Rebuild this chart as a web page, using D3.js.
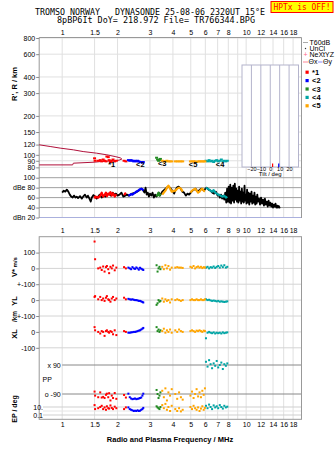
<!DOCTYPE html>
<html><head><meta charset="utf-8">
<script src="https://cdn.jsdelivr.net/npm/d3@7"></script>
<style>
body{margin:0;background:#fff;}
svg{display:block;font-family:"Liberation Sans",Arial,sans-serif;}
</style></head><body>
<svg id="c" width="335" height="451"></svg>
<script>
// ---------- data ----------
const titleLine1 = "TROMSO NORWAY   DYNASONDE 25-08-06 2320UT 15°E";
const titleLine2 = "8pBP6It DoY= 218.972 File= TR766344.BPG";
const statusText = "HPTx is OFF!";
const xTitle = "Radio and Plasma Frequency / MHz";

const freqTicksTop = [1,1.5,2,3,4,5,6,7,8,10,12,14,16,18];
const freqLabelsTop = ["1","1.5","2","3","4","5","6","7","8","10","12","14","16","18"];
const freqTicksMid = [1,1.5,2,3,4,5,6,7,8,9,10,12,14,16,18];
const freqLabelsMid = ["1","1.5","2","3","4","5","6","7","8","9","10","12","14","16","18"];
const freqGrid = [1,1.5,2,3,4,5,6,7,8,9,10,12,14,16,18];

const heightTicks = [800,600,400,300,200,150,120,100,90,80];
const ampTicks = [100,80,60,40,20];
const ampLabels = ["100","dBe 80","60","40","dBn 20"];
const vsTicks = [100,0,-100], vsLabels = ["100","0","+-100"];
const ylTicks = [0,-100], ylLabels = ["0","+-100"];
const xlTicks = [0,-100], xlLabels = ["0","-100"];
const ppTicks = [90,-90], ppLabels = ["x 90","o -90"];
const epTicks = [10,1,0.1], epLabels = ["10.","","0.1"];
const tiltTicks = [-20,-10,0,10,20];
const tiltValues = [2.5, 9];          // theta x, theta y

// model profile (frequency MHz, height km)
const profF = [0.75,0.86,0.975,1.15,1.30,1.54,1.75,1.94,2.07,2.11,2.04,1.89,1.61,1.51,1.15,1.14,0.75];
const profH = [119.5,116,112.7,109.3,106,103,100,97,94.8,92.8,91,89.8,88.7,87.8,86.2,83.6,83.6];

// amplitude (black line)
const ampF = [1.00,1.02,1.04,1.06,1.08,1.10,1.12,1.14,1.16,1.18,
 1.20,1.22,1.25,1.28,1.30,1.33,1.36,1.38,1.41,1.43,
 1.45,1.48,1.51,1.54,1.57,1.60,1.64,1.68,1.72,1.76,
 1.80,1.84,1.88,1.92,1.96,2.00,2.05,2.10,2.15,2.20,
 2.25,2.30,2.40,2.50,2.60,2.70,2.76,2.80,2.84,2.88,
 2.92,2.96,3.00,3.05,3.10,3.15,3.20,3.25,3.30,3.35,
 3.40,3.45,3.50,3.60,3.70,3.80,3.90,4.00,4.06,4.12,
 4.20,4.30,4.40,4.50,4.60,4.70,4.80,4.90,5.00,5.10,
 5.20,5.30,5.40,5.50,5.60,5.70,5.80,5.90,6.00,6.10,
 6.25,6.40,6.55,6.70,6.85,7.00,7.10,7.20,7.30,7.40,
 7.50,7.60,7.70,7.80,7.88,7.96,8.04,8.12,8.20,8.28,
 8.36,8.44,8.52,8.60,8.68,8.76,8.84,8.92,9.00,9.08,
 9.16,9.24,9.32,9.40,9.48,9.56,9.64,9.72,9.80,9.88,
 9.96,10.04,10.12,10.20,10.30,10.40,10.50,10.60,10.70,10.80,
 10.90,11.00,11.10,11.20,11.30,11.40,11.50,11.60,11.75,11.90,
 12.05,12.20,12.35,12.50,12.65,12.80,12.95,13.10,13.25,13.40,
 13.55,13.70,13.85,14.00,14.15,14.30,14.45,14.60,14.75,14.90,
 15.05,15.20,15.30];
const ampDB = [70,74,72,76,72,66,62,60,64,60,
 62,59,63,58,62,66,60,64,57,52,
 60,65,62,58,62,66,60,64,62,66,
 68,64,70,66,68,64,66,70,62,64,
 66,64,68,70,74,78,74,70,80,66,
 70,62,68,64,70,60,66,62,66,70,
 64,68,72,76,80,82,78,72,68,74,
 80,82,78,72,70,64,68,66,70,74,
 76,78,74,72,76,78,76,74,78,80,
 76,74,70,68,72,64,66,60,66,58,
 64,56,70,50,78,52,82,50,86,48,
 80,54,84,50,88,56,78,52,74,50,
 82,54,72,48,78,52,70,50,84,54,
 66,48,76,50,70,46,68,52,72,48,
 64,50,70,46,62,48,66,52,58,46,
 60,48,56,44,58,46,52,42,54,44,
 50,42,48,40,46,42,48,40,44,40,
 43,40,41];

// traces
const t1F  = [1.50,1.51,1.57,1.61,1.64,1.67,1.70,1.73,1.75,1.78,1.80,1.83,1.86,1.89,1.93,1.97,2.17,2.22];
const t1H  = [94,90,90,91,89,92,90,89,97,96,91,88,90,92,89,90,90,89];
const t1A  = [58,62,60,64,70,62,65,70,63,68,66,71,64,69,62,67,65,70];
const t1V  = [170,58,0,5,-10,12,-20,8,15,-5,-30,10,0,18,-12,5,8,0];
const t1YL = [20,25,5,20,0,10,-5,15,25,5,0,-10,10,20,0,10,15,5];
const t1XL = [30,10,0,-10,5,0,-25,5,10,0,-5,5,0,-15,10,-20,5,0];
const t1PP = [-75,-100,-110,-80,-112,-108,-115,-95,-88,-110,-85,-130,-100,-115,-84,-120,-96,-112];
const t1EP = [30,3,5,10,20,3,8,2,15,5,4,25,6,3,12,5,3,8];

const t2F  = [2.29,2.33,2.37,2.41,2.45,2.49,2.53,2.57,2.61,2.65,2.69,2.73,2.76];
const t2H  = [91,90,91,90,89,90,89,90,89,88,88,87,88];
const t2A  = [64,65,67,66,68,70,72,73,75,77,78,77,74];
const t2V  = [5,0,-5,8,0,-3,6,0,-8,4,-2,-6,-10];
const t2YL = [8,5,3,5,2,0,0,-2,-5,-5,-8,-12,-15];
const t2XL = [-5,-5,-3,-2,0,0,2,5,8,10,15,20,25];
const t2PP = [-88,-110,-118,-122,-120,-118,-122,-120,-118,-115,-112,-100,-88];
const t2EP = [8,3,2,1.5,1,1.2,1,1.5,1,1.2,2,3,6];

const t3F  = [3.26,3.30,3.34,3.38,3.42];
const t3H  = [95,92,90,91,93];
const t3A  = [62,66,70,64,68];
const t3V  = [20,-20,0,10,-5];
const t3YL = [-30,-20,0,-10,-5];
const t3XL = [30,5,15,0,10];
const t3PP = [-65,-90,-115,-100,-80];
const t3EP = [15,8,5,3,10];

const t4F  = [6.05,6.17,6.29,6.41,6.53,6.66,6.79,6.92,7.05,7.19,7.33,7.47,7.61,7.76,7.90];
const t4H  = [90,89,91,89,90,88,90,91,89,90,92,89,90,89,90];
const t4A  = [80,78,76,74,72,75,70,68,66,65,63,62,64,60,62];
const t4V  = [5,10,0,8,5,12,3,10,15,5,18,8,20,5,10];
const t4YL = [5,0,2,-2,-5,-3,-5,-8,-5,-10,-8,-10,-12,-10,-8];
const t4XL = [-40,-5,0,-5,-8,-3,-10,-5,-8,-5,-10,-3,-8,-5,-3];
const t4PP = [110,80,120,95,70,100,85,115,75,90,105,65,95,85,100];
const t4EP = [20,5,40,10,3,25,8,15,5,30,10,4,20,8,12];

const t5F  = [3.50,3.57,3.64,3.71,3.78,3.86,3.94, 4.12,4.22,4.32,4.42,4.52,
              4.98,5.08,5.18,5.28,5.38,5.48,5.58,5.68,5.78,5.88,5.97];
const t5H  = [90,89,89,90,89,89,89, 89,89,89,89,89, 89,89,89,89,88,89,89,89,89,89,89];
const t5A  = [66,70,74,80,84,78,72, 74,78,80,78,72, 70,74,76,78,74,70,72,76,78,74,72];
const t5V  = [10,-5,20,0,15,-8,5, 5,8,5,5,3, 10,5,15,0,8,12,5,10,2,8,5];
const t5YL = [10,-10,5,-5,0,-15,5, 0,5,0,-5,0, 0,5,0,0,5,0,0,5,0,0,5];
const t5XL = [5,20,-5,10,0,15,-5, 10,0,15,5,0, 5,10,5,0,8,5,10,5,0,8,5];
const t5PP = [-70,-110,-55,-130,-80,-100,-60, -90,-120,-80,-110,-125,
              -100,-75,-115,-90,-60,-105,-80,-110,-70,-95,-55];
const t5EP = [30,5,60,2,10,1,20, 3,1,5,0.8,2, 10,3,20,5,2,8,1,4,15,2,6];

const traceNames  = ["*1","<2","<3","<4","<5"];
const traceColors = ["#ff0000","#0000ff","#228b22","#00a5a5","#ffa500"];
const markF = [1.86,2.66,3.50,7.22,5.15];
const markH = [84.7,84.7,85.5,85,85];

const legendTop = ["T60dB","UnCl","NeXtYZ"];

// ---------- scales ----------
const x   = d3.scaleLog().domain([0.75,20]).range([39.2,301.5]);
const yH  = d3.scaleLog().domain([75,800]).range([171,38]);
const yA  = d3.scaleLinear().domain([20,100]).range([217.5,177.7]);
const yV  = d3.scaleLinear().domain([-100,100]).range([284.2,252.6]);
const yYL = d3.scaleLinear().domain([-100,100]).range([316,284.2]);
const yXL = d3.scaleLinear().domain([-100,100]).range([347.8,316]);
const yPP = d3.scaleLinear().domain([-90,90]).range([394,365]);
const yEP = d3.scaleLog().domain([0.1,10]).range([415,407]);
const xT  = d3.scaleLinear().domain([-30,30]).range([242,298.5]);

const L = 39.2, R = 301.5, T1 = 37.5, B1 = 218, T2 = 236.7, B2 = 419.3;
const FONT = "Liberation Sans, Arial, sans-serif";
const svg = d3.select("#c");

const traces = [
 {f:t1F,h:t1H,a:t1A,v:t1V,yl:t1YL,xl:t1XL,pp:t1PP,ep:t1EP},
 {f:t2F,h:t2H,a:t2A,v:t2V,yl:t2YL,xl:t2XL,pp:t2PP,ep:t2EP},
 {f:t3F,h:t3H,a:t3A,v:t3V,yl:t3YL,xl:t3XL,pp:t3PP,ep:t3EP},
 {f:t4F,h:t4H,a:t4A,v:t4V,yl:t4YL,xl:t4XL,pp:t4PP,ep:t4EP},
 {f:t5F,h:t5H,a:t5A,v:t5V,yl:t5YL,xl:t5XL,pp:t5PP,ep:t5EP}
].map((t,i)=>Object.assign(t,{name:traceNames[i],color:traceColors[i]}));

// ---------- titles ----------
svg.append("text").attr("x",150).attr("y",15).attr("text-anchor","middle")
  .attr("font-family","DejaVu Sans Mono, monospace").attr("font-size",8)
  .attr("textLength",230).attr("lengthAdjust","spacingAndGlyphs")
  .style("white-space","pre").text(titleLine1);
svg.append("text").attr("x",156).attr("y",23).attr("text-anchor","middle")
  .attr("font-family","DejaVu Sans Mono, monospace").attr("font-size",8)
  .attr("textLength",198).attr("lengthAdjust","spacingAndGlyphs")
  .style("white-space","pre").text(titleLine2);
svg.append("rect").attr("x",271).attr("y",1.5).attr("width",62).attr("height",11)
  .attr("fill","#ffff00").attr("stroke","#ff0000").attr("stroke-width",1);
svg.append("text").attr("x",302).attr("y",10.2).attr("text-anchor","middle")
  .attr("font-family","DejaVu Sans Mono, monospace").attr("font-size",8).attr("fill","#ff0000")
  .attr("textLength",57).attr("lengthAdjust","spacingAndGlyphs")
  .style("white-space","pre").text(statusText);

// ---------- grids ----------
const grid = svg.append("g");
grid.selectAll(".vg1").data(freqGrid).join("line")
  .attr("x1",d=>x(d)).attr("x2",d=>x(d)).attr("y1",T1).attr("y2",B1)
  .attr("stroke","#e0e0e0");
grid.selectAll(".hg").data(heightTicks).join("line")
  .attr("x1",L).attr("x2",R).attr("y1",d=>yH(d)).attr("y2",d=>yH(d)).attr("stroke","#e0e0e0");
grid.selectAll(".ag").data(ampTicks).join("line")
  .attr("x1",L).attr("x2",R).attr("y1",d=>yA(d)).attr("y2",d=>yA(d))
  .attr("stroke",d=>d===20?"#aab0dd":"#a0a0a0");
grid.selectAll(".vg2").data(freqGrid).join("line")
  .attr("x1",d=>x(d)).attr("x2",d=>x(d)).attr("y1",T2).attr("y2",B2)
  .attr("stroke","#e0e0e0");
const lowerLines = [yV(100),yV(0),yV(-100),yYL(0),yYL(-100),yXL(0),yXL(-100)];
grid.selectAll(".lg").data(lowerLines).join("line")
  .attr("x1",L).attr("x2",R).attr("y1",d=>d).attr("y2",d=>d).attr("stroke","#d4d4d4");
grid.selectAll(".pg").data(ppTicks).join("line")
  .attr("x1",x(1)).attr("x2",R).attr("y1",d=>yPP(d)).attr("y2",d=>yPP(d)).attr("stroke","#888");
grid.selectAll(".eg").data(epTicks).join("line")
  .attr("x1",43).attr("x2",R).attr("y1",d=>yEP(d)).attr("y2",d=>yEP(d))
  .attr("stroke",d=>d===1?"#e6e6e6":"#cfcfcf");

// frames
svg.append("path").attr("d",`M${L},${B1}V${T1}H${R}V${B1}`).attr("fill","none").attr("stroke","#999");
svg.append("rect").attr("x",L).attr("y",T2).attr("width",R-L).attr("height",B2-T2)
  .attr("fill","none").attr("stroke","#999");

// ---------- tilt inset ----------
const inset = svg.append("g");
inset.append("rect").attr("x",xT(-30)).attr("y",65).attr("width",xT(30)-xT(-30)).attr("height",102)
  .attr("fill","#fff").attr("stroke","#b4b4cc");
inset.selectAll("line.tt").data(tiltTicks).join("line")
  .attr("x1",d=>xT(d)).attr("x2",d=>xT(d)).attr("y1",65).attr("y2",167).attr("stroke","#b4b4cc");
inset.append("g").attr("transform","translate(0,167)")
  .call(d3.axisBottom(xT).tickValues(tiltTicks).tickSize(0).tickPadding(0.5))
  .call(g=>{g.select(".domain").remove();g.attr("font-size",5.5).attr("font-family",FONT);
            g.selectAll("text").attr("fill","#000");});
inset.append("text").attr("x",xT(0)).attr("y",176).attr("text-anchor","middle")
  .attr("font-size",6).attr("font-family",FONT).text("Tilt / deg");
inset.selectAll("line.tv").data(tiltValues).join("line")
  .attr("x1",d=>xT(d)).attr("x2",d=>xT(d)).attr("y1",163.5).attr("y2",167)
  .attr("stroke",(d,i)=>i===0?"#ff0000":"#0000ff").attr("stroke-width",1.2);

// ---------- axes ----------
function styleAxis(g){
  g.attr("font-size",7).attr("font-family",FONT);
  g.select(".domain").remove();
  g.selectAll(".tick line").attr("stroke","#888");
  g.selectAll(".tick text").attr("fill","#000").style("white-space","pre");
}
svg.append("g").attr("transform",`translate(0,${T1})`)
  .call(d3.axisTop(x).tickValues(freqTicksTop).tickFormat((d,i)=>freqLabelsTop[i]).tickSize(0).tickPadding(2.5))
  .call(styleAxis);
svg.append("g").attr("transform",`translate(0,${T2})`)
  .call(d3.axisTop(x).tickValues(freqTicksMid).tickFormat((d,i)=>freqLabelsMid[i]).tickSize(0).tickPadding(4))
  .call(styleAxis);
svg.append("g").attr("transform",`translate(0,${B2})`)
  .call(d3.axisBottom(x).tickValues(freqTicksTop).tickFormat((d,i)=>freqLabelsTop[i]).tickSize(0).tickPadding(3))
  .call(styleAxis);

svg.append("g").attr("transform",`translate(${L},0)`)
  .call(d3.axisLeft(yH).tickValues(heightTicks).tickFormat(d3.format("d")).tickSize(3).tickPadding(1))
  .call(styleAxis);
svg.append("g").attr("transform",`translate(${L},0)`)
  .call(d3.axisLeft(yA).tickValues(ampTicks).tickFormat((d,i)=>ampLabels[i]).tickSize(3).tickPadding(1))
  .call(styleAxis);
svg.append("g").attr("transform",`translate(${L},0)`)
  .call(d3.axisLeft(yV).tickValues(vsTicks).tickFormat((d,i)=>vsLabels[i]).tickSize(3).tickPadding(1))
  .call(styleAxis);
svg.append("g").attr("transform",`translate(${L},0)`)
  .call(d3.axisLeft(yYL).tickValues(ylTicks).tickFormat((d,i)=>ylLabels[i]).tickSize(3).tickPadding(1))
  .call(styleAxis);
svg.append("g").attr("transform",`translate(${L},0)`)
  .call(d3.axisLeft(yXL).tickValues(xlTicks).tickFormat((d,i)=>xlLabels[i]).tickSize(3).tickPadding(1))
  .call(styleAxis);
svg.append("g").attr("transform",`translate(${x(1)-0.5},0)`)
  .call(d3.axisLeft(yPP).tickValues(ppTicks).tickFormat((d,i)=>ppLabels[i]).tickSize(0).tickPadding(1))
  .call(styleAxis);
svg.append("g").attr("transform",`translate(43.5,0)`)
  .call(d3.axisLeft(yEP).tickValues(epTicks).tickFormat((d,i)=>epLabels[i]).tickSize(0).tickPadding(0.5))
  .call(styleAxis);
svg.append("text").attr("x",42.5).attr("y",382).attr("font-size",7).attr("font-family",FONT).text("PP");

// axis titles
function vTitle(cy, parts){
  const t = svg.append("text").attr("transform",`translate(17,${cy}) rotate(-90)`)
    .attr("text-anchor","middle").attr("font-size",7.5).attr("font-weight","bold").attr("font-family",FONT);
  parts.forEach(p=>t.append("tspan").attr("font-size",p[1]).text(p[0]));
}
vTitle(84,[["R', R / km",7.5]]);
vTitle(267,[["V*",7.5],[" m/s",6]]);
vTitle(301,[["YL",7.5]]);
vTitle(316.5,[["/km",6.5]]);
vTitle(334,[["XL",7.5]]);
vTitle(409,[["EP / deg",7]]);
svg.append("text").attr("x",170).attr("y",441.5).attr("text-anchor","middle")
  .attr("font-size",7.5).attr("font-weight","bold").attr("font-family",FONT).text(xTitle);

// ---------- profile ----------
const prof = profF.map((f,i)=>[f,profH[i]]);
svg.append("path").attr("d",d3.line().x(d=>x(d[0])).y(d=>yH(d[1]))(prof))
  .attr("fill","none").attr("stroke","#b0103a").attr("stroke-width",1);

// ---------- amplitude ----------
const amp = ampF.map((f,i)=>[f,ampDB[i]]);
svg.append("path").attr("d",d3.line().x(d=>x(d[0])).y(d=>yA(d[1]))(amp))
  .attr("fill","none").attr("stroke","#000").attr("stroke-width",1.8).attr("stroke-linejoin","round");

traces.forEach(t=>{
  const pts = t.f.map((f,i)=>[x(f),yA(t.a[i])]);
  let seg=[pts[0]];
  const segs=[seg];
  for(let i=1;i<pts.length;i++){
    if(pts[i][0]-pts[i-1][0] > 4){ seg=[]; segs.push(seg); }
    seg.push(pts[i]);
  }
  segs.forEach(s=>{
    if(s.length===1) s=[[s[0][0]-1,s[0][1]],[s[0][0]+1,s[0][1]]];
    svg.append("path").attr("d",d3.line()(s)).attr("fill","none")
      .attr("stroke",t.color).attr("stroke-width",2.2).attr("stroke-linejoin","round");
  });
});

// ---------- points ----------
traces.forEach(t=>{
  const g = svg.append("g").attr("fill",t.color);
  g.selectAll("rect.h").data(t.f).join("rect")
    .attr("x",(d)=>x(d)-1.5).attr("y",(d,i)=>yH(t.h[i])-1).attr("width",3).attr("height",2);
  [[t.v,yV],[t.yl,yYL],[t.xl,yXL],[t.pp,yPP],[t.ep,yEP]].forEach(([vals,sc])=>{
    g.selectAll(null).data(t.f).join("rect")
      .attr("x",d=>x(d)-1).attr("y",(d,i)=>sc(vals[i])-1).attr("width",2).attr("height",2);
  });
});

// trace markers
svg.selectAll("text.mk").data(markF).join("text")
  .attr("x",d=>x(d)).attr("y",(d,i)=>yH(markH[i])).attr("dy","0.35em")
  .attr("text-anchor","middle").attr("font-size",7.5).attr("font-family",FONT)
  .attr("font-weight","bold").text((d,i)=>traceNames[i]);

// ---------- legend ----------
const lg = svg.append("g").attr("font-size",7).attr("font-family",FONT);
const lgY = [42.5,48.5,54.5];
lg.append("line").attr("x1",303).attr("x2",308).attr("y1",lgY[0]).attr("y2",lgY[0]).attr("stroke","#aaa");
lg.append("circle").attr("cx",305.5).attr("cy",lgY[1]).attr("r",0.7).attr("fill","#333");
lg.append("text").attr("x",305.5).attr("y",lgY[2]).attr("dy","0.35em").attr("text-anchor","middle")
  .attr("fill","#ff6688").text("+");
legendTop.forEach((s,i)=>lg.append("text").attr("x",309.5).attr("y",lgY[i]).attr("dy","0.35em").text(s));
lg.append("line").attr("x1",303).attr("x2",308).attr("y1",62).attr("y2",62).attr("stroke","#ff8899");
lg.append("text").attr("x",308.5).attr("y",62).attr("dy","0.35em").text("Θx");
lg.append("line").attr("x1",318).attr("x2",322.5).attr("y1",62).attr("y2",62).attr("stroke","#8888ff");
lg.append("text").attr("x",323).attr("y",62).attr("dy","0.35em").text("Θy");
traces.forEach((t,i)=>{
  const yy = 72.2 + i*8.4;
  lg.append("rect").attr("x",305.5).attr("y",yy-1.6).attr("width",3.2).attr("height",3.2).attr("fill",t.color);
  lg.append("text").attr("x",312).attr("y",yy).attr("dy","0.35em").attr("font-weight","bold")
    .attr("font-size",7.5).text(t.name);
});
</script>
</body></html>
